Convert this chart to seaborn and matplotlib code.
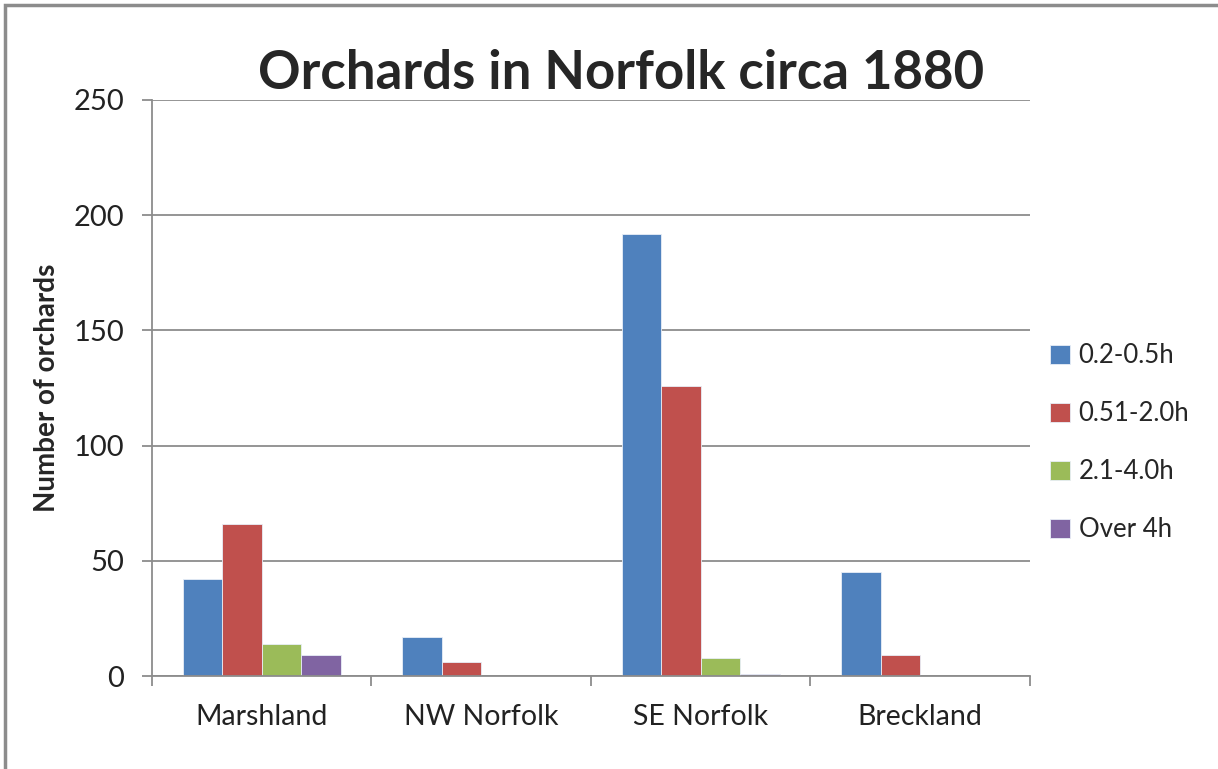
import matplotlib
matplotlib.use("Agg")
import matplotlib.pyplot as plt
import matplotlib.patches as mpatches
import pandas as pd
import seaborn as sns


REGIONS = ["Marshland", "NW Norfolk", "SE Norfolk", "Breckland"]
SIZE_BANDS = ["0.2-0.5h", "0.51-2.0h", "2.1-4.0h", "Over 4h"]
SMALL = [42, 17, 192, 45]
MEDIUM = [66, 6, 126, 9]
LARGE = [14, 0, 8, 0]
OVER_4H = [9, 0, 1, 0]
COLORS = ["#4F81BD", "#C0504D", "#9BBB59", "#8064A2"]
Y_TICKS = [0, 50, 100, 150, 200, 250]


def build_frame():
    rows = []
    for band, values in zip(SIZE_BANDS, [SMALL, MEDIUM, LARGE, OVER_4H]):
        for region, value in zip(REGIONS, values):
            rows.append({"region": region, "band": band, "orchards": value})
    return pd.DataFrame(rows)


def run():
    sns.set_style("white")
    plt.rcParams["font.family"] = ["Lato", "DejaVu Sans"]

    df = build_frame()
    fig = plt.figure(figsize=(12.18, 7.69), dpi=100)
    ax = fig.add_axes([0.1248, 0.1209, 0.7208, 0.7491])

    sns.barplot(
        data=df, x="region", y="orchards", hue="band",
        hue_order=SIZE_BANDS, palette=COLORS, width=0.72, saturation=1,
        edgecolor="#e8eef7", linewidth=0.6, ax=ax, legend=True,
    )

    ax.set_ylim(0, 250)
    ax.set_xlim(-0.5, 3.5)
    ax.set_yticks(Y_TICKS)
    ax.set_yticklabels([str(t) for t in Y_TICKS], fontsize=21, color="#222222")
    ax.yaxis.grid(True, color="#8c8c8c", linewidth=1.3)
    ax.set_axisbelow(True)
    ax.tick_params(axis="y", length=7, width=1.3, color="#8c8c8c", left=True, pad=13)
    ax.tick_params(axis="x", which="major", length=0, labelsize=20.5, pad=20, labelcolor="#222222")
    ax.set_xticks([-0.5, 0.5, 1.5, 2.5, 3.5], minor=True)
    ax.tick_params(axis="x", which="minor", length=7, width=1.3, color="#8c8c8c", bottom=True)

    for side in ["top", "right"]:
        ax.spines[side].set_visible(False)
    for side in ["left", "bottom"]:
        ax.spines[side].set_color("#8c8c8c")
        ax.spines[side].set_linewidth(1.3)

    ax.set_xlabel("")
    ax.set_ylabel("Number of orchards", fontsize=20, fontweight="bold", labelpad=10)
    fig.text(0.51, 0.905, "Orchards in Norfolk circa 1880", fontsize=38,
             fontweight="bold", ha="center", va="center")

    handles, labels = ax.get_legend_handles_labels()
    ax.legend(
        handles, labels, loc="center left", bbox_to_anchor=(0.997, 0.405),
        frameon=False, fontsize=18.5, labelspacing=1.28, handlelength=0.75,
        handleheight=0.75, handletextpad=0.35,
    )

    frame = mpatches.Rectangle((0.004, -0.1), 1.2, 1.093, transform=fig.transFigure,
                               fill=False, edgecolor="#8c8c8c", linewidth=2.5)
    fig.patches.append(frame)

    fig.savefig("out.png", dpi=100)
    plt.close(fig)


if __name__ == "__main__":
    run()
